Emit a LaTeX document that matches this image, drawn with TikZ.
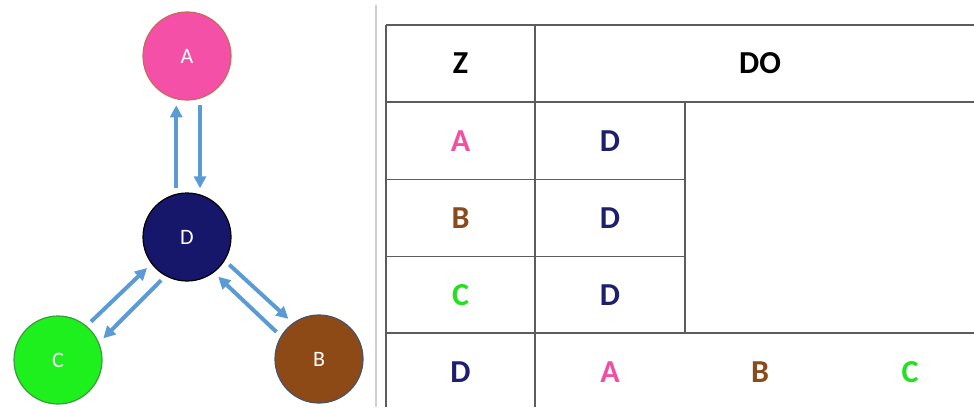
\documentclass[tikz,border=0pt]{standalone}
\usepackage{fontspec}
\setmainfont{Carlito}
\usetikzlibrary{arrows.meta}

\definecolor{nodepink}{HTML}{F550A8}
\definecolor{pinkedge}{HTML}{C8685A}
\definecolor{nodenavy}{HTML}{16166A}
\definecolor{nodegreen}{HTML}{1EF01E}
\definecolor{greenedge}{HTML}{3C9A3C}
\definecolor{nodebrown}{HTML}{8E4A16}
\definecolor{brownedge}{HTML}{44546A}
\definecolor{linkblue}{HTML}{5B9BD5}
\definecolor{gridgray}{HTML}{5C5C5C}
\definecolor{sepgray}{HTML}{CFCFCF}
\definecolor{txtpink}{HTML}{F24FA3}
\definecolor{txtnavy}{HTML}{1E1E6E}
\definecolor{txtbrown}{HTML}{8B4A1C}
\definecolor{txtgreen}{HTML}{22E022}

\begin{document}
\begin{tikzpicture}[x=1pt,y=-1pt,
  vertex/.style={circle, minimum size=88pt, inner sep=0pt, line width=1.2pt,
    text=white, font=\fontsize{22}{24}\selectfont},
  link/.style={draw=linkblue, line width=4pt,
    -{Triangle[length=12pt,width=12pt]}, shorten <=6pt, shorten >=6pt},
  gridline/.style={draw=gridgray, line width=1.4pt},
  cell/.style={font=\fontsize{32}{34}\selectfont\bfseries, inner sep=0pt}]

\useasboundingbox (0,0) rectangle (974,407);
\clip (0,0) rectangle (974,407);

% graph
\node[vertex, fill=nodepink, draw=pinkedge] (A) at (187,56) {A};
\node[vertex, fill=nodenavy, draw=black] (D) at (187,237) {D};
\node[vertex, fill=nodegreen, draw=greenedge] (C) at (58,360) {C};
\node[vertex, fill=nodebrown, draw=brownedge] (B) at (319,359) {B};

\draw[link] (D.104) -- (A.-104);
\draw[link] (A.-73) -- (D.73);
\draw[link] (C.50) -- (D.-143);
\draw[link] (D.-119) -- (C.23);
\draw[link] (D.-32) -- (B.126);
\draw[link] (B.149) -- (D.-53);

% separator
\draw[sepgray, line width=1.5pt] (376,5) -- (376,407);

% table grid
\draw[gridline] (386,25) -- (974,25);
\draw[gridline] (386,102) -- (974,102);
\draw[gridline] (386,179.5) -- (685,179.5);
\draw[gridline] (386,256.5) -- (685,256.5);
\draw[gridline] (386,333) -- (974,333);
\draw[gridline] (386,25) -- (386,407);
\draw[gridline] (535,25) -- (535,407);
\draw[gridline] (685,102) -- (685,333);

% table text
\node[cell, text=black] (hz) at (460.5,63.5) {Z};
\node[cell, text=black] (hdo) at (760,63.5) {DO};
\node[cell, text=txtpink] (r1a) at (460.5,141) {A};
\node[cell, text=txtnavy] (r1b) at (610,141) {D};
\node[cell, text=txtbrown] (r2a) at (460.5,218) {B};
\node[cell, text=txtnavy] (r2b) at (610,218) {D};
\node[cell, text=txtgreen] (r3a) at (460.5,295) {C};
\node[cell, text=txtnavy] (r3b) at (610,295) {D};
\node[cell, text=txtnavy] (r4a) at (460.5,372) {D};
\node[cell, text=txtpink] (r4b) at (610,372) {A};
\node[cell, text=txtbrown] (r4c) at (760,372) {B};
\node[cell, text=txtgreen] (r4d) at (910,372) {C};
\end{tikzpicture}
\end{document}
